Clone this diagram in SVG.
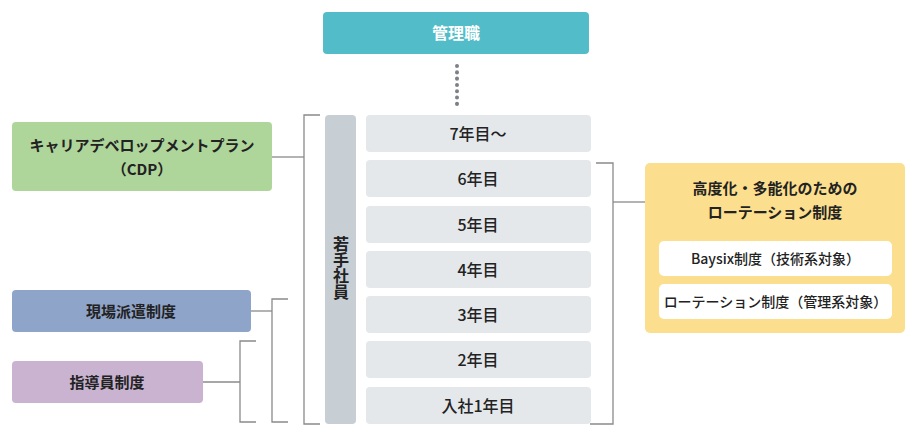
<svg xmlns="http://www.w3.org/2000/svg" width="912" height="435" viewBox="0 0 912 435">
<style>
text{font-family:"Noto Sans CJK JP","Noto Sans",sans-serif;fill:#222;text-anchor:middle;font-weight:500}
.yr{fill:#e5e8eb}
.b{font-weight:700}
.ln{stroke:#8a8a8a;stroke-width:1.3;fill:none}
</style>
<rect width="912" height="435" fill="#fff"/>
<g id="connectors">
<line x1="457" y1="66" x2="457" y2="104" stroke="#7d8187" stroke-width="4" stroke-linecap="round" stroke-dasharray="0.1 6.2"/>
<path class="ln" d="M320 115H304V424H320"/>
<path class="ln" d="M272 157H304"/>
<path class="ln" d="M596 163H613V424H590"/>
<path class="ln" d="M613 202H645"/>
<path class="ln" d="M288 299H272V422H288"/>
<path class="ln" d="M251 311H272"/>
<path class="ln" d="M256 341H240V422H256"/>
<path class="ln" d="M203 382H240"/>
</g>
<g id="kanrishoku">
<rect x="323" y="12" width="266" height="42" rx="4" fill="#52bcc8"/>
<text x="456" y="39" class="b" font-size="16" style="fill:#fff">管理職</text>
</g>
<g id="wakate">
<rect x="325" y="115" width="31" height="309" rx="4" fill="#c7ced4"/>
<text x="341" y="268" font-size="16" class="b" style="writing-mode:vertical-rl">若手社員</text>
</g>
<g id="y7"><rect class="yr" x="366" y="115" width="225" height="37" rx="4"/><text x="478" y="139.5" font-size="16">7年目～</text></g>
<g id="y6"><rect class="yr" x="366" y="160" width="225" height="37" rx="4"/><text x="478" y="184.5" font-size="16">6年目</text></g>
<g id="y5"><rect class="yr" x="366" y="206" width="225" height="37" rx="4"/><text x="478" y="230.5" font-size="16">5年目</text></g>
<g id="y4"><rect class="yr" x="366" y="251" width="225" height="37" rx="4"/><text x="478" y="275.5" font-size="16">4年目</text></g>
<g id="y3"><rect class="yr" x="366" y="296" width="225" height="37" rx="4"/><text x="478" y="320.5" font-size="16">3年目</text></g>
<g id="y2"><rect class="yr" x="366" y="341" width="225" height="37" rx="4"/><text x="478" y="365.5" font-size="16">2年目</text></g>
<g id="y1"><rect class="yr" x="366" y="387" width="225" height="37" rx="4"/><text x="478" y="411.5" font-size="16">入社1年目</text></g>
<g id="cdp">
<rect x="12" y="122" width="260" height="69" rx="4" fill="#aed59a"/>
<text x="142" y="151" font-size="15" class="b">キャリアデベロップメントプラン</text>
<text x="142" y="175" font-size="15" class="b">（CDP）</text>
</g>
<g id="genba">
<rect x="12" y="290" width="239" height="42" rx="4" fill="#8fa4c9"/>
<text x="131" y="317" font-size="15" class="b">現場派遣制度</text>
</g>
<g id="shidou">
<rect x="12" y="361" width="191" height="42" rx="4" fill="#c9b3d1"/>
<text x="107" y="388" font-size="15" class="b">指導員制度</text>
</g>
<g id="rotation">
<rect x="645" y="163" width="260" height="170" rx="5" fill="#fbdf8e"/>
<text x="775" y="194" font-size="15" class="b">高度化・多能化のための</text>
<text x="775" y="218" font-size="15" class="b">ローテーション制度</text>
<rect x="659" y="241" width="233" height="35" rx="5" fill="#fff"/>
<text x="775.5" y="264" font-size="14">Baysix制度（技術系対象）</text>
<rect x="659" y="284" width="233" height="35" rx="5" fill="#fff"/>
<text x="775.5" y="307" font-size="14">ローテーション制度（管理系対象）</text>
</g>
</svg>
